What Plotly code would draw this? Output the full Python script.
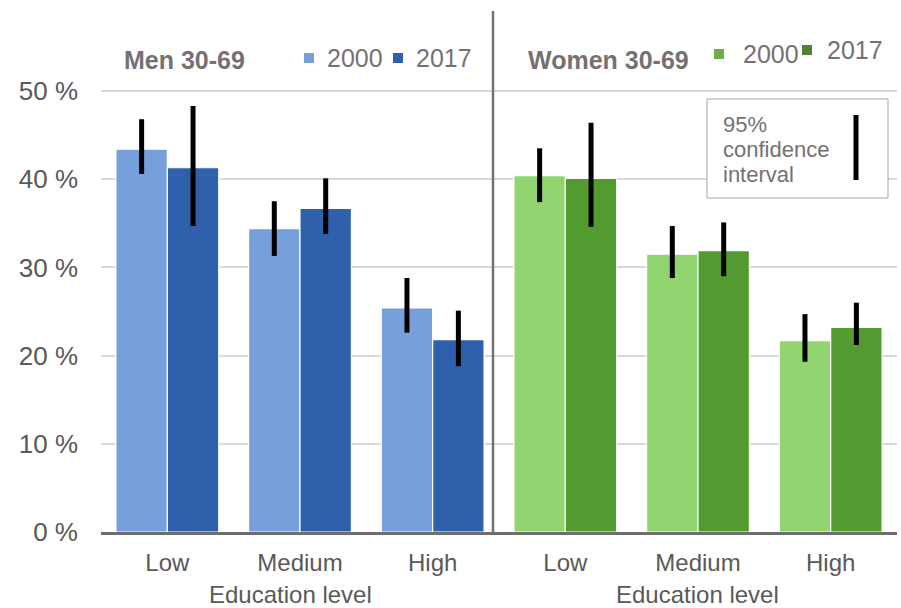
import plotly.graph_objects as go

# Share of population (%) by education level, men and women aged 30-69
levels = ["Low", "Medium", "High"]
men_2000 = [43.4, 34.4, 25.4]
men_2017 = [41.3, 36.7, 21.8]
women_2000 = [40.4, 31.5, 21.7]
women_2017 = [40.1, 31.9, 23.2]

# 95 % confidence interval limits
men_2000_hi = [46.8, 37.5, 28.8]
men_2000_lo = [40.6, 31.3, 22.6]
men_2017_hi = [48.3, 40.1, 25.1]
men_2017_lo = [34.7, 33.8, 18.8]
women_2000_hi = [43.5, 34.7, 24.7]
women_2000_lo = [37.4, 28.8, 19.3]
women_2017_hi = [46.4, 35.1, 26.0]
women_2017_lo = [34.6, 29.0, 21.2]

y_ticks = [0, 10, 20, 30, 40, 50]
y_tick_text = [f"{v} %" for v in y_ticks]

MEN_LIGHT, MEN_DARK = "#769FDC", "#2E60AC"
WOMEN_LIGHT, WOMEN_DARK = "#92D470", "#539B30"
TEXT = "#595959"
HEAD = "#767171"
FONT = "Liberation Sans, Arial, sans-serif"

W, H = 901, 608
L, R, T, B = 101, 4, 11, 76
plot_w = W - L - R
plot_h = H - T - B


def px(x):
    return (x - L) / plot_w


def py(y):
    return (H - B - y) / plot_h


positions = list(range(6))
vals_2000 = men_2000 + women_2000
vals_2017 = men_2017 + women_2017
hi_2000 = men_2000_hi + women_2000_hi
lo_2000 = men_2000_lo + women_2000_lo
hi_2017 = men_2017_hi + women_2017_hi
lo_2017 = men_2017_lo + women_2017_lo

fig = go.Figure()
for name, vals, hi, lo, cols in [
    ("2000", vals_2000, hi_2000, lo_2000, [MEN_LIGHT] * 3 + [WOMEN_LIGHT] * 3),
    ("2017", vals_2017, hi_2017, lo_2017, [MEN_DARK] * 3 + [WOMEN_DARK] * 3),
]:
    fig.add_trace(go.Bar(
        x=positions, y=vals, name=name,
        marker=dict(color=cols, line=dict(color="white", width=1.2)),
        error_y=dict(type="data", symmetric=False,
                     array=[h - v for h, v in zip(hi, vals)],
                     arrayminus=[v - l for v, l in zip(vals, lo)],
                     color="black", thickness=5, width=0),
        showlegend=False,
    ))

fig.update_layout(
    width=W, height=H,
    margin=dict(l=L, r=R, t=T, b=B),
    paper_bgcolor="white", plot_bgcolor="white",
    barmode="group", bargap=0.225, bargroupgap=0.0,
    font=dict(family=FONT, color=TEXT),
    xaxis=dict(range=[-0.5, 5.5], tickvals=positions, ticktext=levels * 2,
               tickfont=dict(size=24, color=TEXT), showgrid=False,
               showline=True, linecolor="#6E6E6E", linewidth=2.5,
               ticks="", ticklabelstandoff=7, zeroline=False),
    yaxis=dict(range=[0, plot_h / 8.82], tickvals=y_ticks, ticktext=y_tick_text,
               tickfont=dict(size=26, color=TEXT), showgrid=True,
               gridcolor="#D9D9D9", gridwidth=1.5, zeroline=False,
               ticks="", ticklabelstandoff=22),
)

shapes = []
annotations = []

# divider between the two panels
shapes.append(dict(type="line", xref="paper", yref="paper",
                   x0=px(493), x1=px(493), y0=py(11), y1=0,
                   line=dict(color=HEAD, width=2.5)))

# panel headings and legends
for label, x0 in (("Men 30-69", 122), ("Women 30-69", 526)):
    annotations.append(dict(text=f"<b>{label}</b>", x=px(x0), y=py(60),
                            xref="paper", yref="paper",
                            xanchor="left", yanchor="middle", showarrow=False,
                            font=dict(size=25, color=HEAD)))

legend_items = [
    (309, 58, MEN_LIGHT, 325, "2000"),
    (398, 58, MEN_DARK, 414, "2017"),
    (719, 54, "#70AD47", 741, "2000"),
    (807, 50, "#548235", 825, "2017"),
]
for mx, my, col, tx, label in legend_items:
    shapes.append(dict(type="rect", xref="paper", yref="paper",
                       x0=px(mx - 5), x1=px(mx + 5), y0=py(my + 5), y1=py(my - 5),
                       fillcolor=col, line=dict(width=0)))
    annotations.append(dict(text=label, x=px(tx), y=py(my), xref="paper", yref="paper",
                            xanchor="left", yanchor="middle", showarrow=False,
                            font=dict(size=25, color=HEAD)))

# confidence-interval key
shapes.append(dict(type="rect", xref="paper", yref="paper",
                   x0=px(707), x1=px(888), y0=py(198), y1=py(99),
                   fillcolor="white", line=dict(color="#A6A6A6", width=1)))
shapes.append(dict(type="line", xref="paper", yref="paper",
                   x0=px(856), x1=px(856), y0=py(180), y1=py(115),
                   line=dict(color="black", width=5)))
for line_text, ly in (("95%", 125), ("confidence", 149.5), ("interval", 174)):
    annotations.append(dict(text=line_text, x=px(721), y=py(ly),
                            xref="paper", yref="paper", xanchor="left", yanchor="middle",
                            showarrow=False, font=dict(size=22, color=HEAD)))

# axis titles for each panel
for cx in (290, 697):
    annotations.append(dict(text="Education level", x=px(cx), y=py(594), xref="paper", yref="paper",
                            xanchor="center", yanchor="middle", showarrow=False,
                            font=dict(size=24, color=TEXT)))

fig.update_layout(shapes=shapes, annotations=annotations)
fig.write_html("out.html")
